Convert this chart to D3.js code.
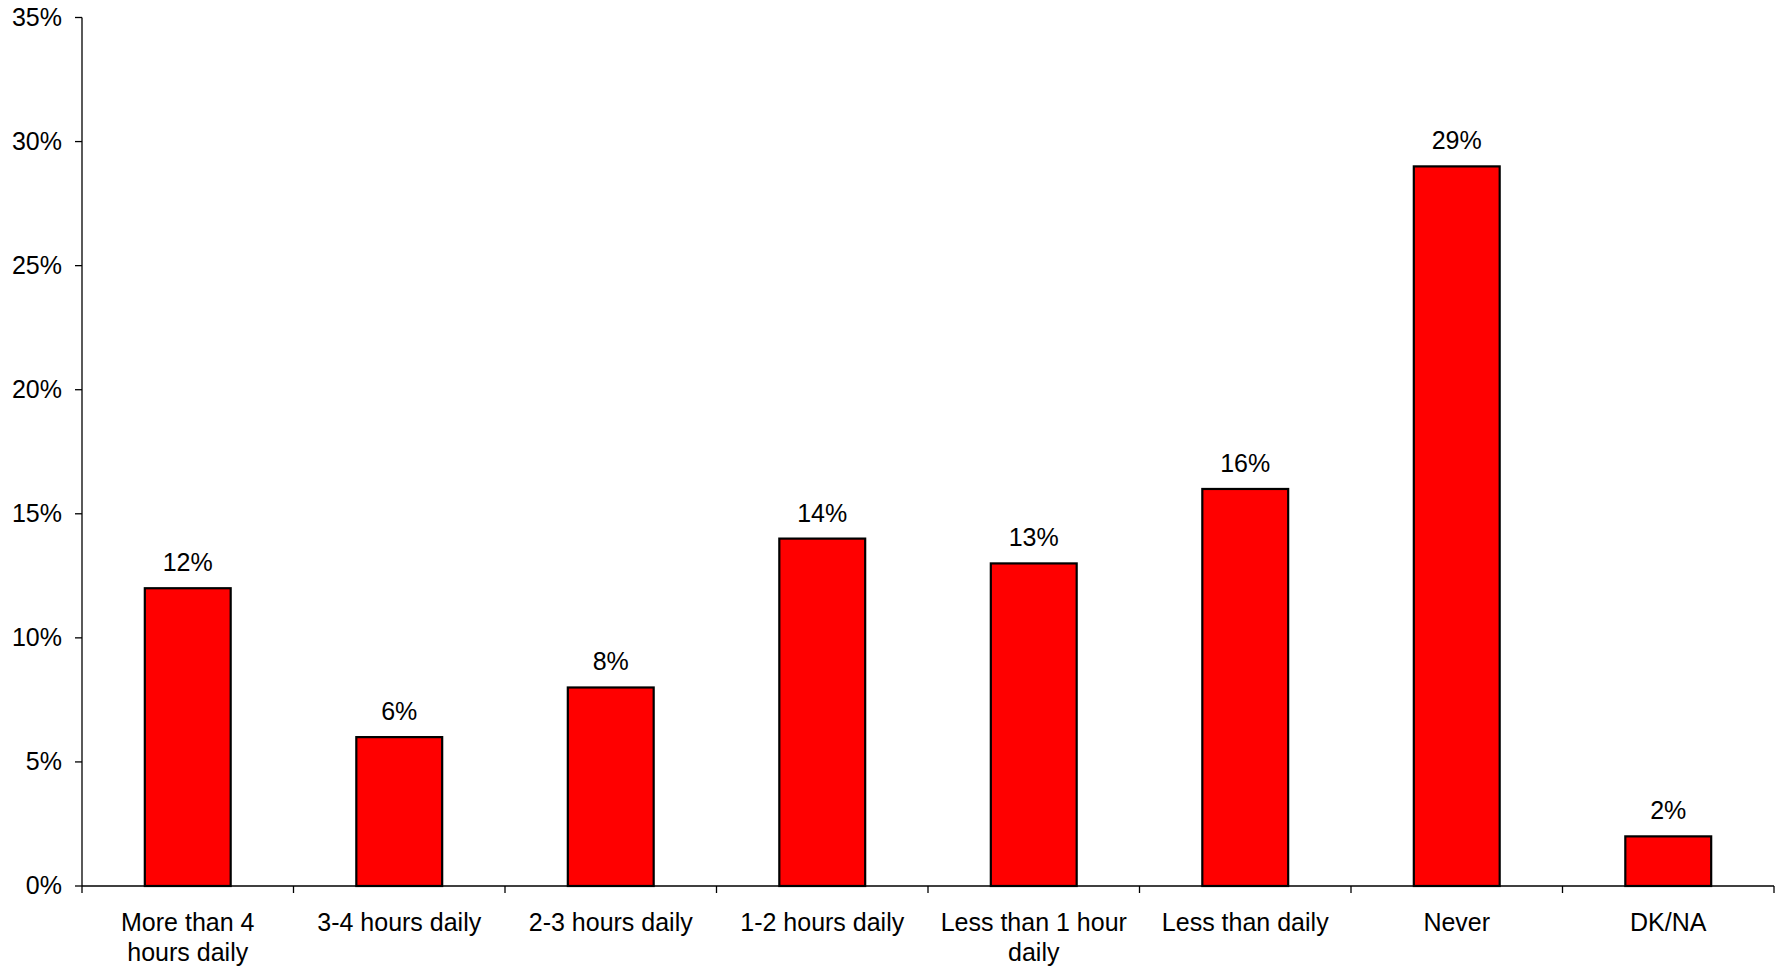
<!DOCTYPE html>
<html>
<head>
<meta charset="utf-8">
<script src="https://cdn.jsdelivr.net/npm/d3@7/dist/d3.min.js"></script>
<style>
  html, body { margin: 0; padding: 0; background: #fff; }
  svg { display: block; font-family: "Liberation Sans", Arial, sans-serif; }
</style>
</head>
<body>
<svg id="chart" width="1781" height="972"></svg>
<script>
// Time spent per day — share of respondents
const categories = [
  "More than 4 hours daily",
  "3-4 hours daily",
  "2-3 hours daily",
  "1-2 hours daily",
  "Less than 1 hour daily",
  "Less than daily",
  "Never",
  "DK/NA"
];
const shares = [12, 6, 8, 14, 13, 16, 29, 2];
const yTicks = [0, 5, 10, 15, 20, 25, 30, 35];

const svg = d3.select("#chart");
const margin = { left: 82, right: 7, top: 17.5, bottom: 86 };
const W = 1781, H = 972;
const x0 = margin.left, x1 = W - margin.right;
const yTop = margin.top, yBot = H - margin.bottom;

const x = d3.scaleBand().domain(categories).range([x0, x1]).paddingInner(0.594).paddingOuter(0.297);
const y = d3.scaleLinear().domain([0, 35]).range([yBot, yTop]);

const fontSize = 25;

// Bars
svg.append("g").selectAll("rect")
  .data(categories)
  .join("rect")
  .attr("x", d => x(d))
  .attr("y", (d, i) => y(shares[i]))
  .attr("width", x.bandwidth())
  .attr("height", (d, i) => y(0) - y(shares[i]))
  .attr("fill", "#ff0000")
  .attr("stroke", "#000")
  .attr("stroke-width", 2.2);

// Value labels
svg.append("g").selectAll("text")
  .data(categories)
  .join("text")
  .attr("x", d => x(d) + x.bandwidth() / 2)
  .attr("y", (d, i) => y(shares[i]) - 17)
  .attr("text-anchor", "middle")
  .attr("font-size", fontSize)
  .attr("fill", "#000")
  .text((d, i) => shares[i] + "%");

// Y axis
const yAxis = svg.append("g");
yAxis.append("line")
  .attr("x1", x0).attr("x2", x0).attr("y1", yTop).attr("y2", yBot)
  .attr("stroke", "#000").attr("stroke-width", 1.3);
yAxis.selectAll("line.tick")
  .data(yTicks)
  .join("line")
  .attr("class", "tick")
  .attr("x1", x0 - 7).attr("x2", x0)
  .attr("y1", d => y(d)).attr("y2", d => y(d))
  .attr("stroke", "#000").attr("stroke-width", 1.3);
yAxis.selectAll("text")
  .data(yTicks)
  .join("text")
  .attr("x", x0 - 20)
  .attr("y", d => y(d))
  .attr("dy", "0.33em")
  .attr("text-anchor", "end")
  .attr("font-size", fontSize)
  .text(d => d + "%");

// X axis
const xAxis = svg.append("g");
xAxis.append("line")
  .attr("x1", x0).attr("x2", x1).attr("y1", yBot).attr("y2", yBot)
  .attr("stroke", "#000").attr("stroke-width", 1.3);
const step = x.step();
const boundaries = d3.range(categories.length + 1).map(i => x0 + i * step);
xAxis.selectAll("line.tick")
  .data(boundaries)
  .join("line")
  .attr("class", "tick")
  .attr("x1", d => d).attr("x2", d => d)
  .attr("y1", yBot).attr("y2", yBot + 7)
  .attr("stroke", "#000").attr("stroke-width", 1.3);

// Category labels, wrapped to the band
const labels = xAxis.selectAll("text.cat")
  .data(categories)
  .join("text")
  .attr("class", "cat")
  .attr("x", d => x(d) + x.bandwidth() / 2)
  .attr("y", yBot + 45)
  .attr("text-anchor", "middle")
  .attr("font-size", fontSize);

labels.each(function (d) {
  const t = d3.select(this);
  const cx = +t.attr("x");
  const words = d.split(" ");
  const maxW = step * 0.9;
  let line = [];
  let lineNo = 0;
  let tspan = t.append("tspan").attr("x", cx).attr("dy", 0);
  words.forEach(w => {
    line.push(w);
    tspan.text(line.join(" "));
    if (tspan.node().getComputedTextLength() > maxW && line.length > 1) {
      line.pop();
      tspan.text(line.join(" "));
      line = [w];
      lineNo++;
      tspan = t.append("tspan").attr("x", cx).attr("dy", 30).text(w);
    }
  });
});
</script>
</body>
</html>
